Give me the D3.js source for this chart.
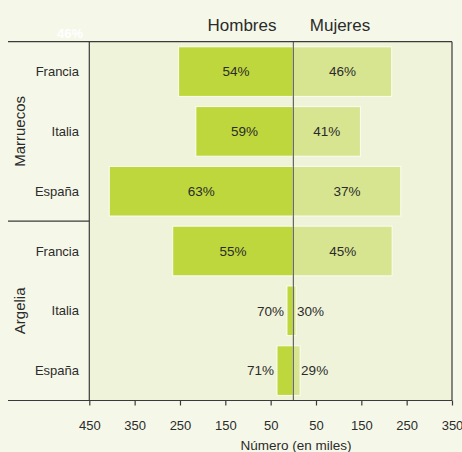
<!DOCTYPE html>
<html>
<head>
<meta charset="utf-8">
<script src="https://cdn.jsdelivr.net/npm/d3@7"></script>
<style>
  html, body { margin: 0; padding: 0; background: #f5f8e9; }
  svg { display: block; font-family: "Liberation Sans", Arial, Helvetica, sans-serif; }
</style>
</head>
<body>
<svg id="chart" width="462" height="452"></svg>
<script>
// Origin countries, destination countries, and emigrants (thousands) by sex
const origins = ["Marruecos", "Argelia"];
const destinations = ["Francia", "Italia", "España"];
const men   = [253, 215, 406, 266, 14, 36];   // Marruecos ×3, Argelia ×3
const women = [217, 148, 237, 218, 6, 15];
const tickValues = [-450, -350, -250, -150, -50, 50, 150, 250, 350];
const sexLabels = ["Hombres", "Mujeres"];
const axisTitle = "Número (en miles)";

const rows = [];
origins.forEach((o, i) => destinations.forEach((d, j) => {
  const k = i * destinations.length + j;
  const total = men[k] + women[k];
  rows.push({ key: o + "-" + d, origin: o, dest: d, men: men[k], women: women[k],
              pm: Math.round(100 * men[k] / total), pw: Math.round(100 * women[k] / total) });
}));

const svg = d3.select("#chart");
const M = { left: 89.3, right: 452, top: 41.7, bottom: 400.5, strip: 8 };

const x = d3.scaleLinear().domain([-450, 350]).range([M.left, M.right]);
const y = d3.scaleBand().domain(rows.map(r => r.key)).range([M.top, M.bottom]).paddingInner(0.17).paddingOuter(0.085);
const rowBand = d3.scaleBand().domain(rows.map(r => r.key)).range([M.top, M.bottom]);

const C = { bg: "#f5f8e9", panel: "#eff3da", men: "#bed73c", women: "#d7e490", line: "#3a3a3a", text: "#2b2b2b" };

// panel background
svg.append("rect").attr("x", M.left).attr("y", M.top).attr("width", M.right - M.left).attr("height", M.bottom - M.top)
  .attr("fill", C.panel);

// stray white label in the header band
svg.append("text").attr("x", 70).attr("y", 33).attr("dy", "0.35em").attr("text-anchor", "middle")
  .attr("fill", "#ffffff").attr("font-size", 13).attr("font-weight", "bold").text("46%");

// bars
const bars = svg.append("g");
bars.selectAll("rect.m").data(rows).join("rect").attr("class", "m")
  .attr("x", d => x(-d.men)).attr("width", d => x(0) - x(-d.men))
  .attr("y", d => y(d.key)).attr("height", y.bandwidth())
  .attr("fill", C.men).attr("stroke", "#fbfdf0").attr("stroke-width", 1);
bars.selectAll("rect.w").data(rows).join("rect").attr("class", "w")
  .attr("x", x(0)).attr("width", d => x(d.women) - x(0))
  .attr("y", d => y(d.key)).attr("height", y.bandwidth())
  .attr("fill", C.women).attr("stroke", "#fbfdf0").attr("stroke-width", 1);

// percentage labels: centred in wide bars, outside narrow ones
const minW = 40;
const lab = svg.append("g").attr("font-size", 13.5).attr("fill", C.text);
rows.forEach(d => {
  const cy = y(d.key) + y.bandwidth() / 2;
  const wm = x(0) - x(-d.men), ww = x(d.women) - x(0);
  lab.append("text").attr("y", cy).attr("dy", "0.35em")
    .attr("x", wm > minW ? x(-d.men) + wm / 2 : x(-d.men) - 3)
    .attr("text-anchor", wm > minW ? "middle" : "end").text(d.pm + "%");
  lab.append("text").attr("y", cy).attr("dy", "0.35em")
    .attr("x", ww > minW ? x(0) + ww / 2 : x(d.women) + 1)
    .attr("text-anchor", ww > minW ? "middle" : "start").text(d.pw + "%");
});

// centre line
svg.append("line").attr("x1", x(0)).attr("x2", x(0)).attr("y1", M.top).attr("y2", M.bottom)
  .attr("stroke", "#4a4a4a").attr("stroke-width", 1);

// frame lines
const frame = svg.append("g").attr("stroke", C.line).attr("stroke-width", 1.2);
frame.append("line").attr("x1", M.strip).attr("x2", M.right).attr("y1", M.top).attr("y2", M.top);
frame.append("line").attr("x1", M.strip).attr("x2", M.right).attr("y1", M.bottom).attr("y2", M.bottom);
frame.append("line").attr("x1", M.left).attr("x2", M.left).attr("y1", M.top).attr("y2", M.bottom);
frame.append("line").attr("x1", M.right).attr("x2", M.right).attr("y1", M.top).attr("y2", M.bottom);
const sepY = rowBand(rows[destinations.length].key);
frame.append("line").attr("x1", M.strip).attr("x2", M.left).attr("y1", sepY).attr("y2", sepY);

// destination labels
svg.append("g").attr("font-size", 13).attr("fill", C.text)
  .selectAll("text").data(rows).join("text")
  .attr("x", 79).attr("y", d => y(d.key) + y.bandwidth() / 2).attr("dy", "0.35em")
  .attr("text-anchor", "end").text(d => d.dest);

// origin labels (rotated)
origins.forEach((o, i) => {
  const first = rows[i * destinations.length].key, last = rows[(i + 1) * destinations.length - 1].key;
  const cy = (rowBand(first) + rowBand(last) + rowBand.bandwidth()) / 2;
  svg.append("text").attr("transform", `translate(20,${cy}) rotate(-90)`)
    .attr("text-anchor", "middle").attr("dy", "0.35em")
    .attr("font-size", 15).attr("fill", C.text).text(o);
});

// x axis
const axis = svg.append("g").attr("transform", `translate(0,${M.bottom})`)
  .call(d3.axisBottom(x).tickValues(tickValues).tickFormat(v => Math.abs(v)).tickSize(5).tickPadding(15));
axis.select(".domain").remove();
axis.selectAll(".tick line").attr("stroke", C.line).attr("stroke-width", 1.2);
axis.selectAll(".tick text").attr("font-size", 13).attr("fill", C.text)
  .attr("font-family", "Liberation Sans, Arial, sans-serif");

svg.append("text").attr("x", 296).attr("y", 445).attr("dy", "0.35em").attr("text-anchor", "middle")
  .attr("font-size", 13.5).attr("fill", C.text).text(axisTitle);

// sex headers
svg.append("text").attr("x", 242).attr("y", 25).attr("dy", "0.35em").attr("text-anchor", "middle")
  .attr("font-size", 17).attr("fill", C.text).text(sexLabels[0]);
svg.append("text").attr("x", 340).attr("y", 25).attr("dy", "0.35em").attr("text-anchor", "middle")
  .attr("font-size", 17).attr("fill", C.text).text(sexLabels[1]);
</script>
</body>
</html>
